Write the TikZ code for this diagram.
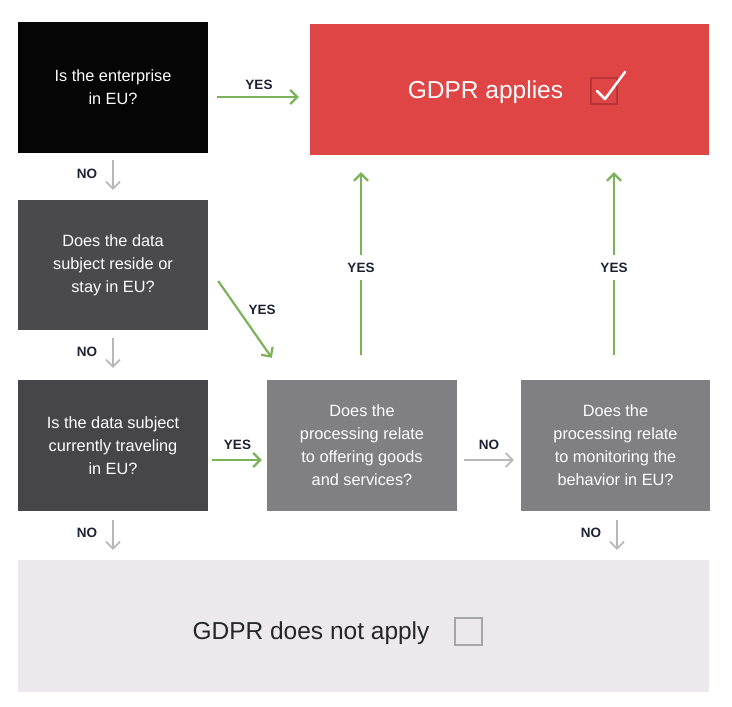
\documentclass[tikz,border=0pt]{standalone}
\usepackage{fontspec}
\setmainfont{Liberation Sans}
\usetikzlibrary{positioning,arrows.meta,calc}
\definecolor{gdprred}{HTML}{E04545}
\definecolor{darkred}{HTML}{B53539}
\definecolor{darkbox}{HTML}{4A494B}
\definecolor{midbox}{HTML}{807F82}
\definecolor{palebox}{HTML}{ECE8EB}
\definecolor{yesgreen}{HTML}{7BB25A}
\definecolor{nogray}{HTML}{B8B8B8}
\definecolor{labelink}{HTML}{1E2133}
\tikzset{
  qbox/.style={minimum width=190pt,minimum height=131pt,inner sep=0pt,text=white,
    align=center,font=\fontsize{16.3}{23}\selectfont},
  yesarrow/.style={-{Straight Barb[length=7pt,width=14pt]},yesgreen,line width=2.2pt},
  noarrow/.style={-{Straight Barb[length=7pt,width=14pt]},nogray,line width=1.8pt},
  lbl/.style={text=labelink,font=\fontsize{13.5}{15}\selectfont\bfseries,inner sep=1pt},
  bigtext/.style={font=\fontsize{24.5}{28}\selectfont}
}
\begin{document}
\begin{tikzpicture}[x=1pt,y=1pt]
\useasboundingbox (0,0) rectangle (732,-707);
% question boxes
\node[qbox,fill=black!98] (enterprise) at (113,-87.5) {Is the enterprise\\in EU?};
\node[qbox,fill=darkbox,minimum height=130pt] (reside) at (113,-265) {Does the data\\subject reside or\\stay in EU?};
\node[qbox,fill=darkbox!95!black] (travel) at (113,-445.5) {Is the data subject\\currently traveling\\in EU?};
\node[qbox,fill=midbox] (offering) at (362,-445.5) {Does the\\processing relate\\to offering goods\\and services?};
\node[qbox,fill=midbox,minimum width=189pt] (monitor) at (615.5,-445.5) {Does the\\processing relate\\to monitoring the\\behavior in EU?};
% outcomes
\node[fill=gdprred,minimum width=399pt,minimum height=131pt] (applies) at (509.5,-89.5) {};
\node[bigtext,text=white] (appliestxt) at (485.5,-92) {GDPR applies};
\draw[darkred,line width=2.5pt] (591,-78) rectangle (617,-104);
\draw[white,line width=2.5pt,line cap=round,line join=round] (597,-91) -- (605,-99) -- (625,-72);
\node[fill=palebox,minimum width=691pt,minimum height=132pt] (notapply) at (363.5,-626) {};
\node[bigtext,text=black!85] (notapplytxt) at (311,-633) {GDPR does not apply};
\draw[black!35,line width=2pt] (455,-618) rectangle (482,-645);
% yes connectors
\draw[yesarrow,shorten <=9pt,shorten >=11pt] (enterprise.east |- 0,-97) -- (applies.west |- 0,-97)
  node[lbl,midway,above=5pt] {YES};
\draw[yesarrow] ([xshift=10pt,yshift=-16pt]reside.east) -- ([xshift=5pt,yshift=22pt]offering.north west)
  node[lbl,pos=0.38,right=8pt] {YES};
\draw[yesarrow,shorten <=4pt,shorten >=5pt] (travel.east |- 0,-460) -- (offering.west |- 0,-460)
  node[lbl,midway,above=8pt] {YES};
\draw[yesarrow,shorten <=25pt,shorten >=17pt] ([xshift=-1pt]offering.north) -- ([xshift=-1pt]offering.north |- applies.south)
  node[lbl,midway,fill=white,inner ysep=8pt] {YES};
\draw[yesarrow,shorten <=25pt,shorten >=17pt] ([xshift=-1.5pt]monitor.north) -- ([xshift=-1.5pt]monitor.north |- applies.south)
  node[lbl,midway,fill=white,inner ysep=8pt] {YES};
% no connectors
\draw[noarrow,shorten <=7pt,shorten >=10pt] (enterprise.south) -- (reside.north)
  node[lbl,midway,left=14pt,yshift=3pt] {NO};
\draw[noarrow,shorten <=8pt,shorten >=12pt] (reside.south) -- (travel.north)
  node[lbl,midway,left=14pt,yshift=3pt] {NO};
\draw[noarrow,shorten <=9pt,shorten >=10pt] (travel.south) -- (travel.south |- notapply.north)
  node[lbl,midway,left=14pt,yshift=3pt] {NO};
\draw[noarrow,shorten <=7pt,shorten >=7pt] (offering.east |- 0,-460) -- (monitor.west |- 0,-460)
  node[lbl,midway,above=8pt] {NO};
\draw[noarrow,shorten <=9pt,shorten >=10pt] ([xshift=1.5pt]monitor.south) -- ([xshift=1.5pt]monitor.south |- notapply.north)
  node[lbl,midway,left=14pt,yshift=3pt] {NO};
\end{tikzpicture}
\end{document}
